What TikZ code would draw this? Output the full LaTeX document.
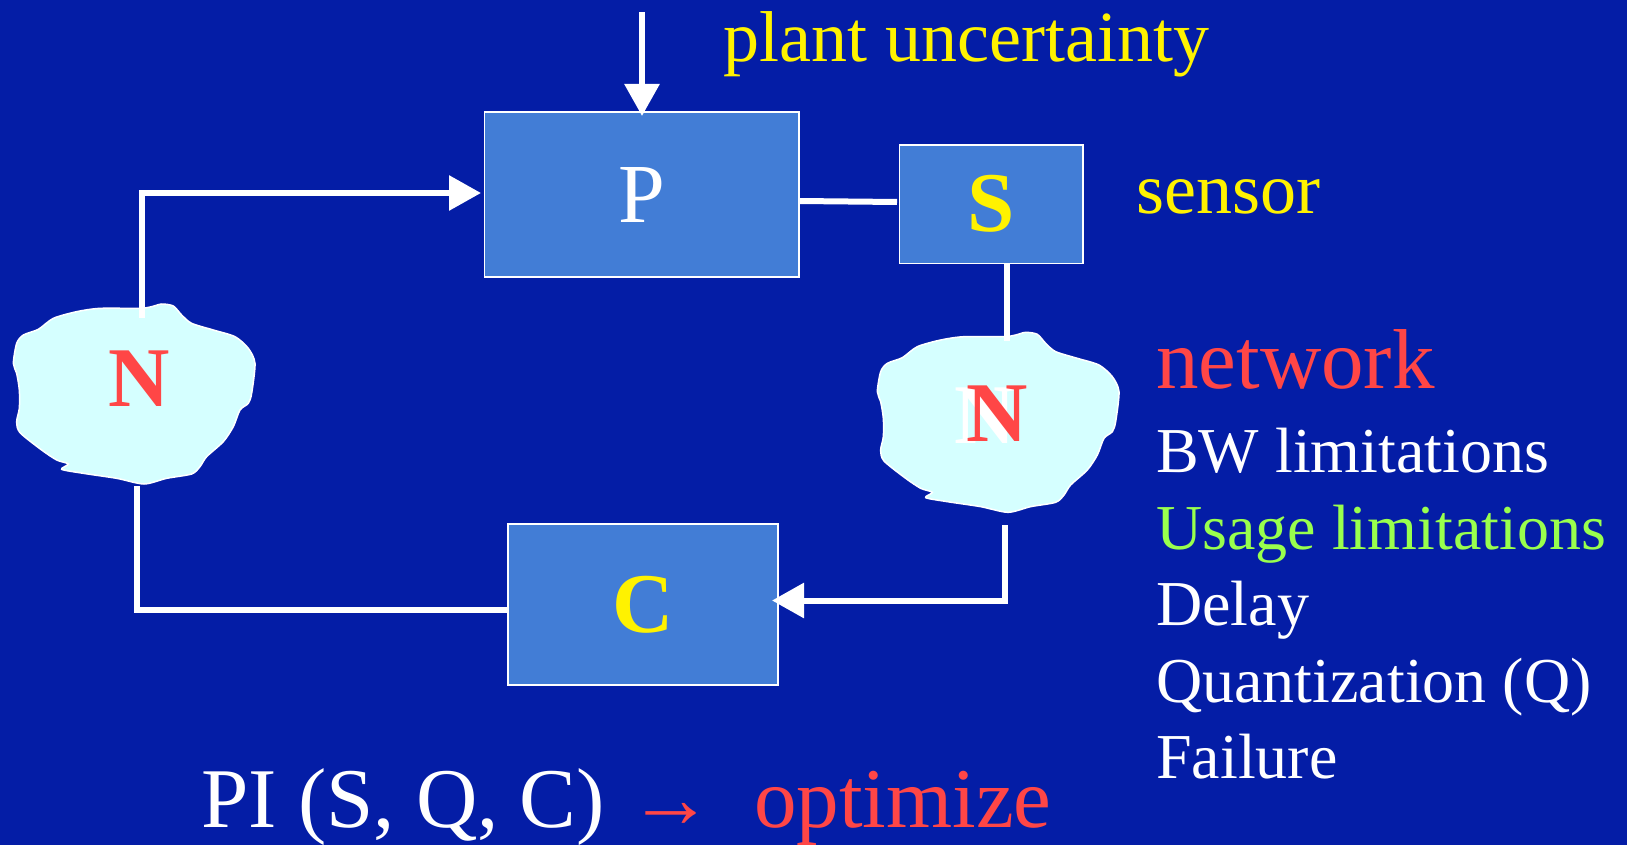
\documentclass[tikz,border=0pt]{standalone}
\usepackage{fontspec}
\setmainfont{Liberation Serif}
\usetikzlibrary{arrows.meta}
\definecolor{bgblue}{HTML}{041DA6}
\definecolor{boxblue}{HTML}{427DD6}
\definecolor{cloudfill}{HTML}{D5FFFF}
\definecolor{redtxt}{HTML}{FF4646}
\definecolor{yellowtxt}{HTML}{FFF200}
\definecolor{greentxt}{HTML}{99FF4D}
\newcommand{\fsz}[1]{\fontsize{#1}{#1}\selectfont}
\newcommand{\cloudpath}{plot[smooth cycle,tension=0.45] coordinates {(40,250)(50,190)(70,165)(115,148)(160,115)(230,95)(300,85)(420,85)(455,80)(485,72)(520,78)(545,105)(575,130)(640,150)(705,170)(745,205)(765,250)(755,340)(745,370)(720,390)(700,440)(670,485)(620,530)(600,560)(575,582)(500,595)(432,612)(350,595)(250,580)(185,568)(205,552)(170,540)(125,510)(60,458)(50,425)(58,385)(58,330)(50,280)}}
\tikzset{
  x=1pt,y=-1pt,
  blockbox/.style={draw=white,line width=1.5pt,fill=boxblue,inner sep=0pt,text=white,font=\fsz{84}},
  cloudshape/.style={draw=white,line width=1.5pt,fill=cloudfill},
  wire/.style={draw=white,line width=6pt},
  flow/.style={wire,-{Triangle[length=32pt,width=34pt]}},
  label/.style={anchor=base west,inner sep=0pt,font=\fsz{#1}},
  boldn/.style={inner sep=0pt,font=\fsz{85}\bfseries},
}
\begin{document}
\begin{tikzpicture}
\useasboundingbox (0,0) rectangle (1627,845);
\fill[bgblue] (0,0) rectangle (1627,845);

% blocks
\node[blockbox,minimum width=314.5pt,minimum height=165pt] (P) at (641.8,194.5) {P};
\node[blockbox,minimum width=183.5pt,minimum height=118.5pt,font=\fsz{85}\bfseries,text=yellowtxt] (S) at (991.3,204.2) {S};
\node[blockbox,minimum width=270pt,minimum height=161pt,font=\fsz{85}\bfseries,text=yellowtxt] (C) at (643,604.5) {C};

% clouds
\begin{scope}[shift={(0,280)},scale=0.33333]
  \path[cloudshape] \cloudpath;
\end{scope}
\begin{scope}[shift={(864,308.33)},scale=0.33333]
  \path[cloudshape] \cloudpath;
\end{scope}
\node[boldn,text=redtxt] (N1) at (139,379) {N};
\node[boldn,text=white] (N2w) at (985,416) {N};
\node[boldn,text=redtxt] (N2) at (997,414) {N};
\path (N2) ++(0,0);

% free ends of connectors
\coordinate (top) at (642,12);
\coordinate (ptop) at (642,116);
\coordinate (n1top) at (142,318);
\coordinate (n1corner) at (142,193);
\coordinate (pleft) at (481,193);
\coordinate (pright) at (799,201);
\coordinate (sleft) at (897,202);
\coordinate (sbottom) at (1006.7,263.5);
\coordinate (n2top) at (1006.7,340.7);
\coordinate (n2bottom) at (1005.3,525);
\coordinate (n2corner) at (1005.3,600.5);
\coordinate (cright) at (772,600.5);
\coordinate (cleft) at (508,610);
\coordinate (c1corner) at (136.5,610);
\coordinate (n1bottom) at (136.5,486);

% connectors
\draw[flow] (top) -- (ptop);
\draw[flow] (n1top) -- (n1corner) -- (pleft);
\draw[wire] (pright) -- (sleft);
\draw[wire] (sbottom) -- (n2top);
\draw[flow] (n2bottom) -- (n2corner) -- (cright);
\draw[wire] (cleft) -- (c1corner) -- (n1bottom);

% texts
\node[label=72,text=yellowtxt] (tplant) at (723,62) {plant uncertainty};
\node[label=72,text=yellowtxt] (tsensor) at (1136,214) {sensor};
\node[label=85,text=redtxt] (tnet) at (1156,388) {network};
\node[label=64,text=white] (tbw) at (1156,472) {BW limitations};
\node[label=64,text=greentxt] (tusage) at (1156,549) {Usage limitations};
\node[label=64,text=white] (tdelay) at (1156,625.5) {Delay};
\node[label=64,text=white] (tquant) at (1156,702.5) {Quantization (Q)};
\node[label=64,text=white] (tfail) at (1156,778) {Failure};
\node[label=85,text=white] (tpi) at (201,827) {PI (S, Q, C)};
\node[label=85,text=redtxt] (tarrow) at (628,827) {→};
\node[label=85,text=redtxt] (topt) at (754,827) {optimize};
\end{tikzpicture}
\end{document}
